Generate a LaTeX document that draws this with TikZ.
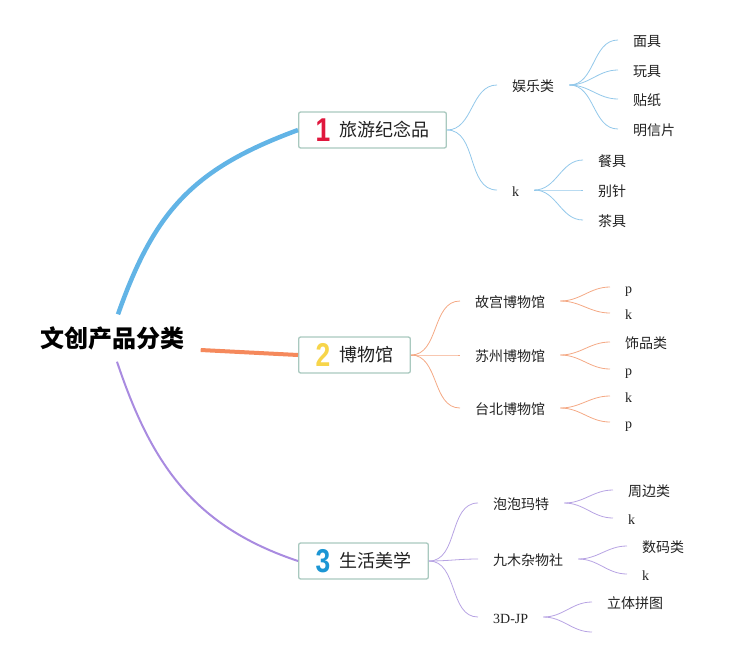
\documentclass[tikz,border=0pt]{standalone}
\usepackage{graphicx}
\usepackage{fontspec}
\setmainfont{Liberation Serif}
\newfontfamily\cjk{Noto Sans CJK SC}
\newfontfamily\digitfont{Liberation Sans}
\definecolor{ink}{HTML}{222222}
\definecolor{boxline}{HTML}{A9C9BF}
\definecolor{blueline}{HTML}{62B4E6}
\definecolor{orangeline}{HTML}{F5895C}
\definecolor{purpleline}{HTML}{A98BE0}
\definecolor{bluetwig}{HTML}{93C8EA}
\definecolor{orangetwig}{HTML}{F4A985}
\definecolor{purpletwig}{HTML}{B7A3E3}
\definecolor{numred}{HTML}{E0173D}
\definecolor{numyellow}{HTML}{F7D54A}
\definecolor{numblue}{HTML}{1C96D4}
\newcommand\topicnum[2]{\raisebox{-5pt}{\scalebox{0.8}[1]{\color{#1}\digitfont\bfseries\fontsize{33}{33}\selectfont #2}}\hspace{9pt}}
\begin{document}
\begin{tikzpicture}[x=1pt, y=-1pt,
    topic/.style={draw=boxline, line width=1.3pt, fill=white, rounded corners=2pt,
        minimum height=36pt, inner xsep=17pt, inner ysep=0pt, anchor=west,
        text=ink, font=\cjk\fontsize{18}{18}\selectfont},
    sub/.style={anchor=west, inner xsep=15pt, inner ysep=0pt, text height=13pt,
        text depth=1pt, text=ink, font=\cjk\fontsize{14}{14}\selectfont},
    lat/.style={sub, font=\fontsize{14}{14}\selectfont},
    twig/.style={line width=0.8pt},
    fan/.style={out=0, in=180},
]
    \useasboundingbox (0, 0) rectangle (745, 657);
    \node[font=\cjk\bfseries\fontsize{24}{24}\selectfont, text=black, inner xsep=16pt,
        inner ysep=0pt, minimum height=47pt] (R) at (112.5, 338) {文创产品分类};
    \node[topic] (M_1) at (298, 130) {\topicnum{numred}{1}旅游纪念品};
    \node[topic] (M_2) at (298, 355) {\topicnum{numyellow}{2}博物馆};
    \node[topic] (M_3) at (298, 561) {\topicnum{numblue}{3}生活美学};
    \draw[blueline, line width=4.5pt] ([xshift=5.5pt]R.north) .. controls (155, 209) and (195, 168) .. (M_1.west);
    \draw[orangeline, line width=4pt] ([yshift=-12pt]R.east) -- (M_2.west);
    \draw[purpleline, line width=2pt] ([xshift=4.5pt]R.south) .. controls (151, 463) and (193, 526) .. (M_3.west);

    \node[sub] (M_1_1) at (497, 85) {娱乐类};
    \node[lat] (M_1_2) at (497, 190) {k};
    \node[sub] (M_1_1_1) at (618, 40) {面具};
    \node[sub] (M_1_1_2) at (618, 70) {玩具};
    \node[sub] (M_1_1_3) at (618, 99) {贴纸};
    \node[sub] (M_1_1_4) at (618, 129) {明信片};
    \node[sub] (M_1_2_1) at (583, 160) {餐具};
    \node[sub] (M_1_2_2) at (583, 190) {别针};
    \node[sub] (M_1_2_3) at (583, 220) {茶具};
    \draw[twig, bluetwig] (M_1.east) to[fan] (M_1_1.west);
    \draw[twig, bluetwig] (M_1.east) to[fan] (M_1_2.west);
    \draw[twig, bluetwig] (M_1_1.east) to[fan] (M_1_1_1.west);
    \draw[twig, bluetwig] (M_1_1.east) to[fan] (M_1_1_2.west);
    \draw[twig, bluetwig] (M_1_1.east) to[fan] (M_1_1_3.west);
    \draw[twig, bluetwig] (M_1_1.east) to[fan] (M_1_1_4.west);
    \draw[twig, bluetwig] (M_1_2.east) to[fan] (M_1_2_1.west);
    \draw[twig, bluetwig] (M_1_2.east) to[fan] (M_1_2_2.west);
    \draw[twig, bluetwig] (M_1_2.east) to[fan] (M_1_2_3.west);

    \node[sub] (M_2_1) at (460, 301) {故宫博物馆};
    \node[sub] (M_2_2) at (460, 355) {苏州博物馆};
    \node[sub] (M_2_3) at (460, 408) {台北博物馆};
    \node[lat] (M_2_1_1) at (610, 287) {p};
    \node[lat] (M_2_1_2) at (610, 313) {k};
    \node[sub] (M_2_2_1) at (610, 342) {饰品类};
    \node[lat] (M_2_2_2) at (610, 369) {p};
    \node[lat] (M_2_3_1) at (610, 396) {k};
    \node[lat] (M_2_3_2) at (610, 422) {p};
    \draw[twig, orangetwig] (M_2.east) to[fan] (M_2_1.west);
    \draw[twig, orangetwig] (M_2.east) to[fan] (M_2_2.west);
    \draw[twig, orangetwig] (M_2.east) to[fan] (M_2_3.west);
    \draw[twig, orangetwig] (M_2_1.east) to[fan] (M_2_1_1.west);
    \draw[twig, orangetwig] (M_2_1.east) to[fan] (M_2_1_2.west);
    \draw[twig, orangetwig] (M_2_2.east) to[fan] (M_2_2_1.west);
    \draw[twig, orangetwig] (M_2_2.east) to[fan] (M_2_2_2.west);
    \draw[twig, orangetwig] (M_2_3.east) to[fan] (M_2_3_1.west);
    \draw[twig, orangetwig] (M_2_3.east) to[fan] (M_2_3_2.west);

    \node[sub] (M_3_1) at (478, 503) {泡泡玛特};
    \node[sub] (M_3_2) at (478, 559) {九木杂物社};
    \node[lat] (M_3_3) at (478, 617) {3D-JP};
    \node[sub] (M_3_1_1) at (613, 490) {周边类};
    \node[lat] (M_3_1_2) at (613, 518) {k};
    \node[sub] (M_3_2_1) at (627, 546) {数码类};
    \node[lat] (M_3_2_2) at (627, 574) {k};
    \node[sub] (M_3_3_1) at (592, 602) {立体拼图};
    \coordinate (M_3_3_2) at (592, 632);
    \draw[twig, purpletwig] (M_3.east) to[fan] (M_3_1.west);
    \draw[twig, purpletwig] (M_3.east) to[fan] (M_3_2.west);
    \draw[twig, purpletwig] (M_3.east) to[fan] (M_3_3.west);
    \draw[twig, purpletwig] (M_3_1.east) to[fan] (M_3_1_1.west);
    \draw[twig, purpletwig] (M_3_1.east) to[fan] (M_3_1_2.west);
    \draw[twig, purpletwig] (M_3_2.east) to[fan] (M_3_2_1.west);
    \draw[twig, purpletwig] (M_3_2.east) to[fan] (M_3_2_2.west);
    \draw[twig, purpletwig] (M_3_3.east) to[fan] (M_3_3_1.west);
    \draw[twig, purpletwig] (M_3_3.east) to[fan] (M_3_3_2);
\end{tikzpicture}
\end{document}
